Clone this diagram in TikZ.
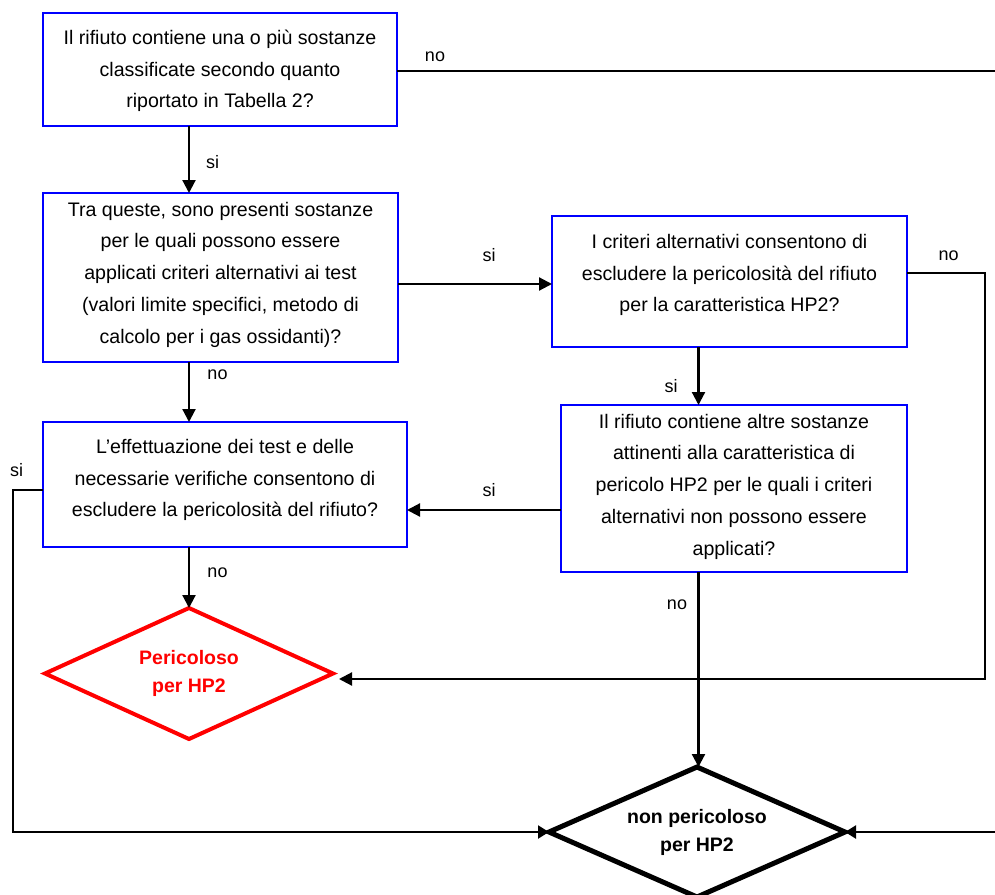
\documentclass[tikz,border=0pt]{standalone}
\usepackage{fontspec}
\setmainfont{Liberation Sans}
\usetikzlibrary{arrows.meta,shapes.geometric}
\definecolor{qblue}{RGB}{0,0,255}
\definecolor{qred}{RGB}{255,0,0}

\begin{document}
\begin{tikzpicture}[x=1pt,y=-1pt,
  qbox/.style={draw=qblue, line width=2.6pt, rectangle, inner sep=0pt, outer sep=0pt},
  qtext/.style={align=center, font=\fontsize{19.6}{31.75}\selectfont, inner sep=0pt},
  endbase/.style={diamond, aspect=2.2, inner sep=0pt, outer sep=0pt, align=center,
    font=\bfseries\fontsize{19.5}{28}\selectfont},
  endred/.style={endbase, draw=qred, text=qred, line width=4pt,
    minimum width=288pt, minimum height=131pt},
  endblack/.style={endbase, draw=black, text=black, line width=5pt,
    minimum width=296pt, minimum height=130pt},
  link/.style={line width=2.2pt},
  flow/.style={link, -{Triangle[length=13pt,width=13pt]}},
  flowsm/.style={link, -{Triangle[length=11pt,width=13pt]}},
  lbl/.style={font=\fontsize{18}{20}\selectfont, inner sep=0pt, anchor=base},
]
\path[use as bounding box, fill=white] (0,0) rectangle (995,894);

% question boxes
\node[qbox, minimum width=354pt, minimum height=113pt] (b1) at (220,69.5) {};
\node[qbox, minimum width=355pt, minimum height=169pt] (b2) at (220.5,277.5) {};
\node[qbox, minimum width=355pt, minimum height=131pt] (b3) at (729.5,281.5) {};
\node[qbox, minimum width=346pt, minimum height=167pt] (b4) at (734,488.5) {};
\node[qbox, minimum width=364pt, minimum height=125pt] (b5) at (225,484.5) {};

% question texts
\node[qtext] (t1) at (220,71) {Il rifiuto contiene una o più sostanze\\classificate secondo quanto\\riportato in Tabella 2?};
\node[qtext] (t2) at (220.5,274.5) {Tra queste, sono presenti sostanze\\per le quali possono essere\\applicati criteri alternativi ai test\\(valori limite specifici, metodo di\\calcolo per i gas ossidanti)?};
\node[qtext] (t3) at (729.5,275) {I criteri alternativi consentono di\\escludere la pericolosità del rifiuto\\per la caratteristica HP2?};
\node[qtext] (t4) at (734,486.5) {Il rifiuto contiene altre sostanze\\attinenti alla caratteristica di\\pericolo HP2 per le quali i criteri\\alternativi non possono essere\\applicati?};
\node[qtext] (t5) at (225,480) {L’effettuazione dei test e delle\\necessarie verifiche consentono di\\escludere la pericolosità del rifiuto?};

% outcomes
\node[endred] (rd) at (189,673.5) {Pericoloso\\per HP2};
\node[endblack] (bd) at (697,832) {non pericoloso\\per HP2};

% routing helpers
\coordinate (colA) at (189,0);
\coordinate (colB) at (698.5,0);
\coordinate (colL) at (12.7,0);
\coordinate (colR) at (985,0);
\coordinate (farR) at (998,0);
\coordinate (rowTop) at (0,71);
\coordinate (rowA) at (0,284);
\coordinate (rowC) at (0,273);
\coordinate (rowB) at (0,510);
\coordinate (rowD) at (0,490);
\coordinate (rdin) at (339,679);

% connectors
\draw[flow] (b1.south -| colA) -- (b2.north -| colA);
\draw[flow] (b2.south -| colA) -- (b5.north -| colA);
\draw[flow] (b5.south -| colA) -- (rd.north);
\draw[flow] (b2.east |- rowA) -- (b3.west |- rowA);
\draw[flow] (b3.south -| colB) -- (b4.north -| colB);
\draw[flow] (b4.west |- rowB) -- (b5.east |- rowB);
\draw[flow] (b4.south -| colB) -- (bd.north -| colB);
\draw[flow] (b3.east |- rowC) -- (colR |- rowC) |- (rdin);
\draw[flowsm] (b1.east |- rowTop) -- (farR |- rowTop) |- (bd.east);
\draw[flowsm] (b5.west |- rowD) -- (colL |- rowD) |- (bd.west);

% branch labels
\node[lbl] (l1) at (435,61.7) {no};
\node[lbl] (l2) at (212.5,168) {si};
\node[lbl] (l3) at (489,261) {si};
\node[lbl] (l4) at (948.5,260.7) {no};
\node[lbl] (l5) at (217.5,379) {no};
\node[lbl] (l6) at (671,392) {si};
\node[lbl] (l7) at (16.5,476) {si};
\node[lbl] (l8) at (489,496) {si};
\node[lbl] (l9) at (217.5,577) {no};
\node[lbl] (l10) at (677,609) {no};
\end{tikzpicture}
\end{document}
